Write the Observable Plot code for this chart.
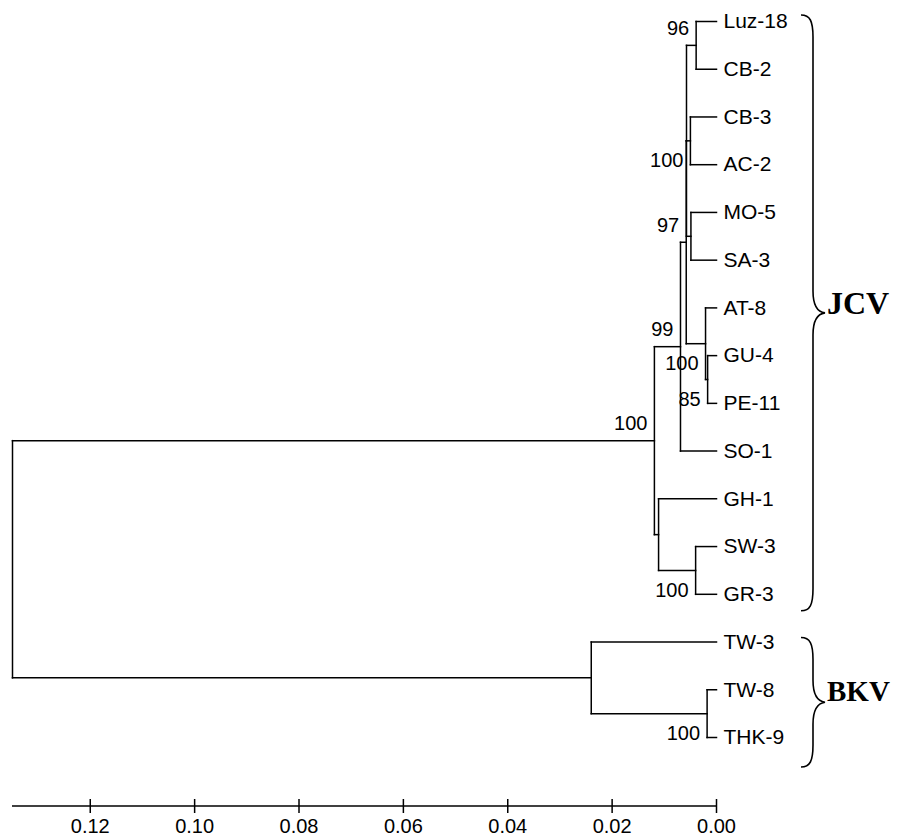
<!DOCTYPE html>
<html><head><meta charset="utf-8">
<script src="https://cdn.jsdelivr.net/npm/d3@7"></script>
<script src="https://cdn.jsdelivr.net/npm/@observablehq/plot@0.6"></script>
<style>body{margin:0;background:#fff}</style>
</head><body><div id="chart"></div>
<script>
// ---- data ----
const leaves = ["Luz-18","CB-2","CB-3","AC-2","MO-5","SA-3","AT-8","GU-4","PE-11","SO-1","GH-1","SW-3","GR-3","TW-3","TW-8","THK-9"];
const nodeIds = ["n1","n2","n3","n4","n5","n6","n7","n8","n9","n10","n11","n12","n13","root"];
const nodeChildren = [
  ["Luz-18","CB-2"], ["CB-3","AC-2"], ["MO-5","SA-3"], ["n1","n2","n3"],
  ["GU-4","PE-11"], ["AT-8","n5"], ["n4","n6"], ["n7","SO-1"],
  ["SW-3","GR-3"], ["GH-1","n9"], ["n8","n10"], ["TW-8","THK-9"],
  ["TW-3","n12"], ["n11","n13"]
];
const nodeHeights = [0.0039,0.0050,0.0049,0.00575,0.0017,0.0021,0.0058,0.0069,0.0040,0.0111,0.0119,0.0018,0.0240,0.1349];
const bootNodes = ["n1","n2","n7","n8","n6","n5","n11","n9","n12"];
const bootValues = [96,100,97,99,100,85,100,100,100];
const bootSide = ["above","below","above","above","below","below","above","below","below"];
const groupNames = ["JCV","BKV"];
const groupFirst = ["Luz-18","TW-3"];
const groupLast = ["GR-3","THK-9"];
const tickValues = [0,0.02,0.04,0.06,0.08,0.10,0.12];

// ---- layout config (styles/offsets) ----
const braceOverhang = [[6,17],[4,30]];
const groupFont = [32,29];
const groupDy = [1.5,-1];

// ---- tree layout ----
const pos = new Map();
leaves.forEach((d,i)=>pos.set(d,{x:0,y:i}));
nodeIds.forEach((id,k)=>{
  const ch = nodeChildren[k];
  const y = (pos.get(ch[0]).y + pos.get(ch[ch.length-1]).y)/2;
  pos.set(id,{x:nodeHeights[k], y});
});
const segs = [];
nodeIds.forEach((id,k)=>{
  const p = pos.get(id), ch = nodeChildren[k];
  segs.push({x1:p.x,x2:p.x,y1:pos.get(ch[0]).y,y2:pos.get(ch[ch.length-1]).y});
  ch.forEach(c=>{const q=pos.get(c); segs.push({x1:p.x,x2:q.x,y1:q.y,y2:q.y});});
});
const boots = bootNodes.map((n,i)=>({x:pos.get(n).x, y:pos.get(n).y, v:bootValues[i], side:bootSide[i]}));
const leafData = leaves.map((d,i)=>({name:d, y:i}));
const rootH = nodeHeights[nodeHeights.length-1];

function extras(index, scales, values, dims) {
  const g = d3.create("svg:g");
  const x0 = scales.x(0);
  const yAxis = dims.height - dims.marginBottom;
  g.append("line").attr("x1", scales.x(rootH)).attr("x2", x0)
    .attr("y1", yAxis).attr("y2", yAxis).attr("stroke","black").attr("stroke-width",1.5);
  groupNames.forEach((name,i)=>{
    const yt = scales.y(pos.get(groupFirst[i]).y) - braceOverhang[i][0];
    const yb = scales.y(pos.get(groupLast[i]).y) + braceOverhang[i][1];
    const ym = (yt+yb)/2;
    const xl = x0+85, xv = x0+97, xt = x0+109;
    const d = `M${xl},${yt} C${xl+9},${yt} ${xv},${yt+6} ${xv},${yt+22} L${xv},${ym-22} C${xv},${ym-8} ${xv+4},${ym-1} ${xt},${ym} C${xv+4},${ym+1} ${xv},${ym+8} ${xv},${ym+22} L${xv},${yb-22} C${xv},${yb-6} ${xl+9},${yb} ${xl},${yb}`;
    g.append("path").attr("d",d).attr("fill","none").attr("stroke","black").attr("stroke-width",1.6);
    g.append("text").attr("x", x0+111).attr("y", ym+groupDy[i])
      .attr("text-anchor","start")
      .attr("font-family","'Times New Roman','Liberation Serif',serif")
      .attr("font-weight","bold").attr("font-size",groupFont[i]).attr("fill","black").text(name);
  });
  return g.node();
}

const chart = Plot.plot({
  width: 903, height: 835,
  marginLeft: 12, marginRight: 187, marginTop: 0, marginBottom: 29,
  style: {fontFamily: "Arial, 'Liberation Sans', sans-serif", fontSize: "20px", background: "white", color: "black", overflow: "visible"},
  x: {domain: [rootH, 0], label: null},
  y: {domain: [0, 15], range: [21, 737], axis: null},
  marks: [
    Plot.link(segs, {x1:"x1", y1:"y1", x2:"x2", y2:"y2", stroke:"black", strokeWidth:1.5, strokeLinecap:"square"}),
    Plot.text(leafData, {x: 0, y: "y", text: "name", dx: 7, textAnchor: "start", fontSize: 21, fill: "black"}),
    Plot.text(boots.filter(d=>d.side==="above"), {x: "x", y: "y", text: d=>String(d.v), dx: -7, dy: -17, textAnchor: "end", fontSize: 20, fill: "black"}),
    Plot.text(boots.filter(d=>d.side==="below"), {x: "x", y: "y", text: d=>String(d.v), dx: -7, dy: 20, textAnchor: "end", fontSize: 20, fill: "black"}),
    Plot.axisX({anchor: "bottom", ticks: tickValues, tickSize: 7, tickPadding: 5, tickFormat: d3.format(".2f"), label: null, strokeWidth: 1.5, fontSize: 20}),
    Plot.axisX({anchor: "bottom", ticks: tickValues, tickSize: 7, dy: -7, tickFormat: () => "", label: null, strokeWidth: 1.5}),
    extras
  ]
});
document.getElementById("chart").appendChild(chart);
</script>
</body></html>
